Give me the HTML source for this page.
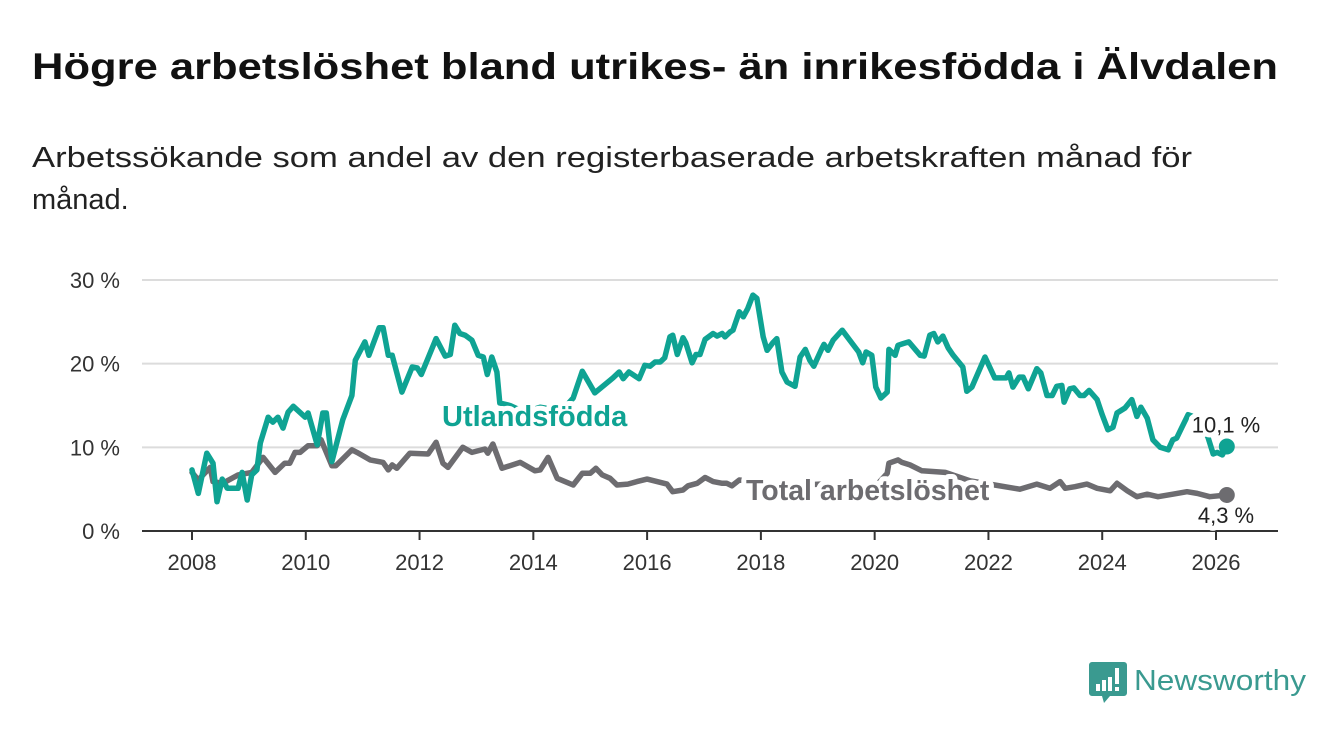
<!DOCTYPE html>
<html><head><meta charset="utf-8">
<style>
html,body{margin:0;padding:0;background:#fff;}
svg{display:block;font-family:"Liberation Sans",sans-serif;}
</style></head>
<body>
<svg id="chart" width="1340" height="734" viewBox="0 0 1340 734">
<text x="32" y="79" font-size="37" font-weight="bold" fill="#111" textLength="1246" lengthAdjust="spacingAndGlyphs">Högre arbetslöshet bland utrikes- än inrikesfödda i Älvdalen</text>
<text x="32" y="167" font-size="29" fill="#222" textLength="1160" lengthAdjust="spacingAndGlyphs">Arbetssökande som andel av den registerbaserade arbetskraften månad för</text>
<text x="32" y="209" font-size="29" fill="#222">månad.</text>
<g id="grid"></g>
<g id="axes"></g>
<g id="series"></g>
<g id="labels"></g>
<g>
<path d="M1092 662 h32 a3 3 0 0 1 3 3 v28 a3 3 0 0 1 -3 3 h-14 l-6 7 l-2 -7 h-10 a3 3 0 0 1 -3 -3 v-28 a3 3 0 0 1 3 -3z" fill="#3a9a90"/>
<rect x="1096" y="684" width="4" height="7" fill="#fff"/>
<rect x="1102" y="680" width="4" height="11" fill="#fff"/>
<rect x="1108" y="677" width="4" height="14" fill="#fff"/>
<rect x="1115" y="668" width="4" height="16" fill="#fff"/>
<rect x="1115" y="687" width="4" height="4" fill="#fff"/>
<text x="1134" y="690" font-size="29" fill="#3a9a90" textLength="172" lengthAdjust="spacingAndGlyphs">Newsworthy</text>
</g>
</svg>
<script>
const yTicks = [0, 10, 20, 30];
const yTickLabels = ["0 %", "10 %", "20 %", "30 %"];
const xTicks = [2008, 2010, 2012, 2014, 2016, 2018, 2020, 2022, 2024, 2026];
const foreignDates = [2008.00,2008.11,2008.26,2008.37,2008.44,2008.53,2008.62,2008.81,2008.88,2008.97,2009.05,2009.14,2009.20,2009.34,2009.42,2009.51,2009.60,2009.69,2009.78,2009.99,2010.04,2010.20,2010.30,2010.36,2010.46,2010.65,2010.81,2010.87,2011.04,2011.11,2011.29,2011.36,2011.45,2011.52,2011.69,2011.87,2011.96,2012.03,2012.29,2012.45,2012.54,2012.62,2012.71,2012.80,2012.92,2013.03,2013.12,2013.19,2013.27,2013.36,2013.41,2013.59,2013.85,2014.12,2014.38,2014.61,2014.70,2014.86,2015.08,2015.40,2015.51,2015.58,2015.68,2015.86,2015.96,2016.05,2016.14,2016.23,2016.31,2016.40,2016.45,2016.53,2016.63,2016.68,2016.79,2016.86,2016.93,2017.02,2017.16,2017.23,2017.32,2017.37,2017.46,2017.51,2017.62,2017.69,2017.77,2017.86,2017.93,2018.04,2018.11,2018.21,2018.28,2018.37,2018.46,2018.60,2018.69,2018.78,2018.86,2018.93,2019.07,2019.11,2019.18,2019.27,2019.43,2019.65,2019.72,2019.79,2019.85,2019.95,2020.02,2020.11,2020.22,2020.25,2020.36,2020.41,2020.50,2020.60,2020.80,2020.87,2020.97,2021.04,2021.11,2021.20,2021.29,2021.38,2021.55,2021.62,2021.71,2021.94,2022.11,2022.31,2022.36,2022.43,2022.54,2022.61,2022.70,2022.85,2022.92,2023.03,2023.12,2023.20,2023.29,2023.33,2023.43,2023.50,2023.61,2023.68,2023.77,2023.91,2024.00,2024.10,2024.19,2024.26,2024.40,2024.52,2024.61,2024.68,2024.79,2024.89,2025.02,2025.16,2025.24,2025.31,2025.40,2025.51,2025.68,2025.86,2025.95,2026.02,2026.11,2026.19];
const foreignValues = [7.3,4.5,9.3,8.1,3.5,6.2,5.1,5.1,7.0,3.7,6.7,7.3,10.5,13.6,13.0,13.6,12.3,14.2,14.9,13.6,14.1,10.3,14.1,14.1,8.3,13.3,16.2,20.4,22.6,21.0,24.3,24.3,21.0,21.0,16.6,19.6,19.5,18.7,23.0,20.9,21.1,24.6,23.6,23.4,22.8,21.0,20.8,18.7,20.8,19.0,15.3,15.0,14.2,14.8,14.5,15.2,15.9,19.1,16.5,18.3,19.0,18.2,19.0,18.2,19.8,19.7,20.2,20.2,20.7,23.2,23.4,21.1,23.1,22.5,20.1,21.1,21.1,22.9,23.6,23.3,23.6,23.2,23.8,24.0,26.2,25.6,26.6,28.2,27.8,23.2,21.6,22.5,23.0,19.0,17.8,17.3,20.8,21.7,20.4,19.7,21.8,22.3,21.6,22.8,24.0,22.0,21.4,20.1,21.4,21.0,17.2,15.9,16.6,21.7,21.0,22.2,22.4,22.6,21.0,20.9,23.4,23.6,22.6,23.3,21.9,21.0,19.6,16.7,17.2,20.8,18.3,18.3,18.9,17.2,18.4,18.4,17.0,19.4,18.9,16.2,16.2,17.3,17.4,15.4,17.0,17.1,16.2,16.2,16.8,15.7,13.9,12.1,12.4,14.1,14.7,15.7,13.7,14.8,13.5,10.9,10.0,9.7,10.9,11.1,12.4,13.9,13.5,11.2,9.2,9.4,9.1,10.1];
const totalDates = [2008.00,2008.11,2008.32,2008.37,2008.54,2008.81,2009.05,2009.25,2009.46,2009.63,2009.72,2009.81,2009.90,2010.04,2010.20,2010.27,2010.46,2010.53,2010.81,2010.90,2011.13,2011.36,2011.45,2011.52,2011.60,2011.83,2012.15,2012.29,2012.41,2012.50,2012.76,2012.92,2013.15,2013.20,2013.29,2013.45,2013.77,2014.03,2014.12,2014.26,2014.42,2014.70,2014.86,2015.00,2015.10,2015.21,2015.35,2015.47,2015.66,2015.82,2016.00,2016.35,2016.45,2016.63,2016.72,2016.88,2017.02,2017.16,2017.32,2017.40,2017.49,2017.62,2017.98,2018.51,2019.04,2019.57,2020.01,2020.22,2020.25,2020.41,2020.48,2020.62,2020.83,2021.24,2021.68,2022.11,2022.55,2022.85,2023.08,2023.26,2023.35,2023.52,2023.73,2023.91,2024.14,2024.26,2024.44,2024.61,2024.79,2024.98,2025.24,2025.49,2025.67,2025.89,2026.19];
const totalValues = [7.0,6.1,7.6,5.9,5.7,6.7,7.0,8.8,7.0,8.1,8.1,9.4,9.4,10.2,10.2,10.9,7.8,7.8,9.7,9.4,8.5,8.2,7.3,7.9,7.5,9.3,9.2,10.6,8.1,7.6,10.0,9.4,9.8,9.3,10.4,7.5,8.2,7.2,7.3,8.8,6.3,5.5,6.9,6.9,7.5,6.7,6.3,5.5,5.6,5.9,6.2,5.6,4.7,4.9,5.4,5.7,6.4,5.9,5.7,5.7,5.4,6.1,5.8,5.4,5.6,5.5,5.3,6.9,8.1,8.5,8.2,7.9,7.2,7.0,6.0,5.5,5.0,5.6,5.1,5.9,5.1,5.3,5.6,5.1,4.8,5.7,4.8,4.1,4.4,4.1,4.4,4.7,4.5,4.1,4.3];

const NS = "http://www.w3.org/2000/svg";
const X0 = 192, X1 = 1216, Y0 = 531, Y30 = 280;
function xScale(d){ return X0 + (d - 2008) * (X1 - X0) / 18; }
function yScale(v){ return Y0 - v * (Y0 - Y30) / 30; }
function mk(tag, attrs, parent){ const e = document.createElementNS(NS, tag); for (const k in attrs) e.setAttribute(k, attrs[k]); parent.appendChild(e); return e; }

const grid = document.getElementById('grid');
const axes = document.getElementById('axes');
yTicks.forEach((t, i) => {
  if (t > 0) {
    const g = mk('line', {x1:142, x2:1278, y1:yScale(t), y2:yScale(t), stroke:'#dcdcdc', 'stroke-width':2}, grid);
    
    
  }
  const lab = mk('text', {x:120, y:yScale(t)+8, 'font-size':22, fill:'#333', 'text-anchor':'end'}, axes);
  lab.textContent = yTickLabels[i];
  
  
});
const ax = mk('line', {x1:142, x2:1278, y1:Y0, y2:Y0, stroke:'#333', 'stroke-width':2}, axes);


xTicks.forEach(t => {
  const tk = mk('line', {x1:xScale(t), x2:xScale(t), y1:Y0, y2:Y0+9, stroke:'#333', 'stroke-width':2}, axes);
  
  
  const lab = mk('text', {x:xScale(t), y:570, 'font-size':22, fill:'#333', 'text-anchor':'middle'}, axes);
  lab.textContent = t;
  
  
});

const series = document.getElementById('series');
function drawLine(dates, vals, color, name){
  const d = dates.map((t,i) => (i?'L':'M') + xScale(t).toFixed(1) + ' ' + yScale(vals[i]).toFixed(1)).join(' ');
  const p = mk('path', {d:d, fill:'none', stroke:color, 'stroke-width':5.5, 'stroke-linejoin':'round', 'stroke-linecap':'round'}, series);
  
  
  const n = dates.length - 1;
  const c = mk('circle', {cx:xScale(dates[n]), cy:yScale(vals[n]), r:8, fill:color}, series);
  
  
}
drawLine(totalDates, totalValues, '#6d6c70', 'total-line');
drawLine(foreignDates, foreignValues, '#0fa393', 'foreign-born-line');

const labels = document.getElementById('labels');
function halo(attrs, txt, name){
  const t = mk('text', Object.assign({stroke:'#fff', 'stroke-width':10, 'paint-order':'stroke', 'stroke-linejoin':'round'}, attrs), labels);
  t.textContent = txt;
  
  
}
halo({x:442, y:426, 'font-size':29, 'font-weight':'bold', fill:'#0fa393'}, 'Utlandsfödda', 'series-label-foreign');
halo({x:746, y:500, 'font-size':28.5, 'font-weight':'bold', fill:'#6d6c70'}, 'Total arbetslöshet', 'series-label-total');
const nf = foreignValues.length - 1, nt = totalValues.length - 1;
halo({x:1226, y:yScale(foreignValues[nf]) - 14, 'font-size':22, fill:'#222', 'text-anchor':'middle'}, foreignValues[nf].toFixed(1).replace('.', ',') + ' %', 'end-value-foreign');
halo({x:1226, y:yScale(totalValues[nt]) + 28, 'font-size':22, fill:'#222', 'text-anchor':'middle'}, totalValues[nt].toFixed(1).replace('.', ',') + ' %', 'end-value-total');
</script>
</body></html>
